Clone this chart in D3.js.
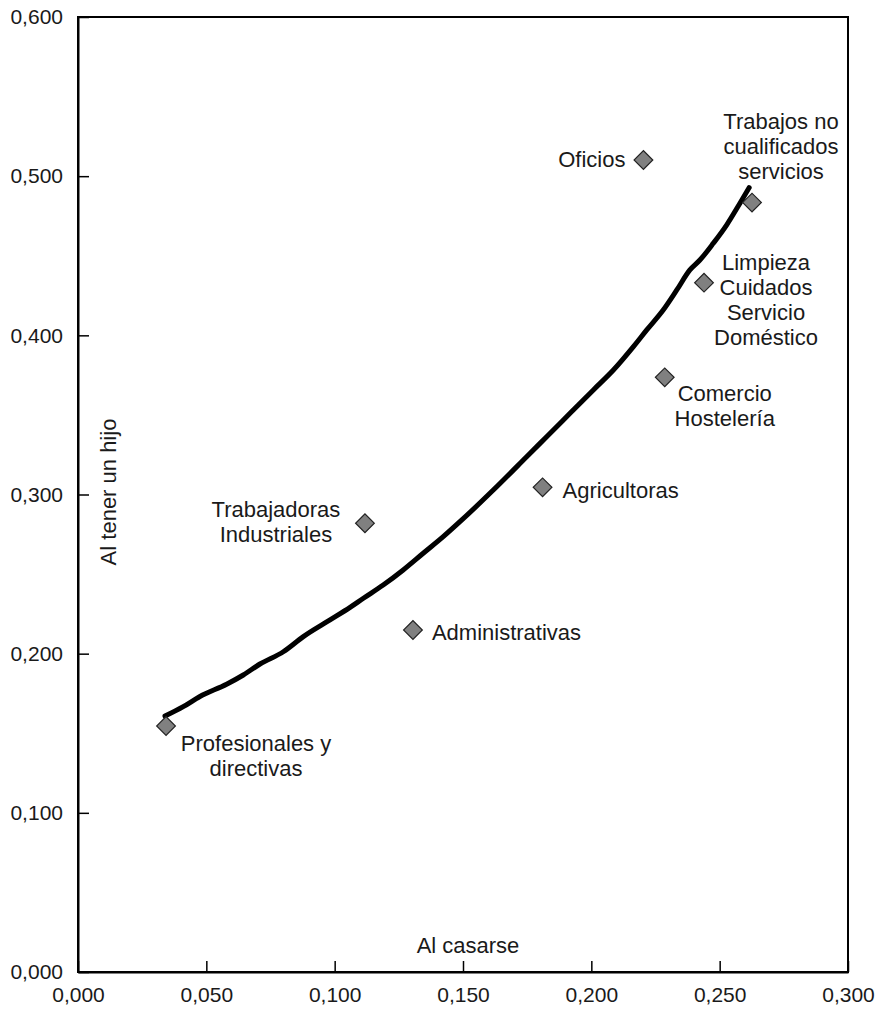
<!DOCTYPE html>
<html>
<head>
<meta charset="utf-8">
<script src="https://cdn.jsdelivr.net/npm/d3@7/dist/d3.min.js"></script>
<style>
  html, body { margin: 0; padding: 0; background: #fff; }
  svg text { font-family: "Liberation Sans", Arial, Helvetica, sans-serif; fill: #1a1a1a; }
</style>
</head>
<body>
<svg id="chart" width="886" height="1012"></svg>
<script>
// ---- Data ----
const categories = ["Profesionales y directivas", "Administrativas", "Trabajadoras Industriales",
  "Agricultoras", "Comercio Hostelería", "Limpieza Cuidados Servicio Doméstico",
  "Trabajos no cualificados servicios", "Oficios"];
const alCasarse = [0.0343, 0.1305, 0.1118, 0.1810, 0.2286, 0.2439, 0.2626, 0.2203];
const alTenerHijo = [0.1546, 0.2149, 0.2819, 0.3045, 0.3736, 0.4331, 0.4834, 0.5102];
const labelLines = [
  ["Profesionales y", "directivas"],
  ["Administrativas"],
  ["Trabajadoras", "Industriales"],
  ["Agricultoras"],
  ["Comercio", "Hostelería"],
  ["Limpieza", "Cuidados", "Servicio", "Doméstico"],
  ["Trabajos no", "cualificados", "servicios"],
  ["Oficios"]
];
// trend curve
const curveX = [0.0339, 0.0410, 0.0475, 0.0579, 0.0644, 0.0709, 0.0800, 0.0878, 0.0982, 0.1060,
  0.1112, 0.1189, 0.1267, 0.1345, 0.1423, 0.1488, 0.1618, 0.1748, 0.1826, 0.1917,
  0.2008, 0.2086, 0.2164, 0.2216, 0.2280, 0.2333, 0.2384, 0.2423, 0.2475, 0.2527,
  0.2579, 0.2615];
const curveY = [0.1608, 0.1667, 0.1731, 0.1808, 0.1866, 0.1935, 0.2012, 0.2107, 0.2212, 0.2291,
  0.2348, 0.2431, 0.2526, 0.2631, 0.2735, 0.2829, 0.3028, 0.3237, 0.3363, 0.3510,
  0.3657, 0.3782, 0.3929, 0.4034, 0.4159, 0.4285, 0.4411, 0.4473, 0.4578, 0.4693,
  0.4830, 0.4928];
const xTicks = [0, 0.05, 0.10, 0.15, 0.20, 0.25, 0.30];
const xTickLabels = ["0,000", "0,050", "0,100", "0,150", "0,200", "0,250", "0,300"];
const yTicks = [0, 0.1, 0.2, 0.3, 0.4, 0.5, 0.6];
const yTickLabels = ["0,000", "0,100", "0,200", "0,300", "0,400", "0,500", "0,600"];
const xTitle = "Al casarse";
const yTitle = "Al tener un hijo";

// ---- Layout (label placement relative to marker, px) ----
const labelLayout = [
  { dx: 90, dy: 17, anchor: "middle" },
  { dx: 19, dy: 2, anchor: "start" },
  { dx: -89, dy: -14, anchor: "middle" },
  { dx: 20, dy: 3, anchor: "start" },
  { dx: 60, dy: 16, anchor: "middle" },
  { dx: 62, dy: -20, anchor: "middle" },
  { dx: 29, dy: -81, anchor: "middle" },
  { dx: -18, dy: -1, anchor: "end" }
];

const svg = d3.select("#chart");
const L = 78, R = 848, T = 17, B = 972;
const x = d3.scaleLinear().domain([0, 0.3]).range([L, R]);
const y = d3.scaleLinear().domain([0, 0.6]).range([B, T]);
const fontSize = 21;
const labelSize = 22;

// frame
svg.append("rect").attr("x", L).attr("y", T).attr("width", R - L).attr("height", B - T)
  .attr("fill", "none").attr("stroke", "#000").attr("stroke-width", 2);

// axes
const xAxis = d3.axisBottom(x).tickValues(xTicks).tickFormat((d, i) => xTickLabels[i])
  .tickSizeInner(-11).tickSizeOuter(0).tickPadding(15);
const gx = svg.append("g").attr("transform", `translate(0,${B})`).call(xAxis);
const yAxis = d3.axisLeft(y).tickValues(yTicks).tickFormat((d, i) => yTickLabels[i])
  .tickSizeInner(-11).tickSizeOuter(0).tickPadding(15);
const gy = svg.append("g").attr("transform", `translate(${L},0)`).call(yAxis);
[gx, gy].forEach(g => {
  g.select(".domain").attr("stroke", "#000").attr("stroke-width", 2);
  g.selectAll(".tick line").attr("stroke", "#000").attr("stroke-width", 1.5);
  g.selectAll(".tick text").attr("font-size", fontSize)
    .attr("font-family", "'Liberation Sans', Arial, sans-serif").attr("fill", "#1a1a1a");
});

// axis titles
svg.append("text").attr("x", 468).attr("y", 945).attr("dy", "0.35em")
  .attr("text-anchor", "middle").attr("font-size", labelSize).text(xTitle);
svg.append("text").attr("transform", `translate(108,492) rotate(-90)`).attr("dy", "0.35em")
  .attr("text-anchor", "middle").attr("font-size", labelSize).text(yTitle);

// curve
const curveData = curveX.map((v, i) => [v, curveY[i]]);
svg.append("path").datum(curveData)
  .attr("d", d3.line().x(d => x(d[0])).y(d => y(d[1])).curve(d3.curveMonotoneX))
  .attr("fill", "none").attr("stroke", "#000").attr("stroke-width", 5)
  .attr("stroke-linecap", "round").attr("stroke-linejoin", "round");

// points
const pts = categories.map((c, i) => ({ c, x: alCasarse[i], y: alTenerHijo[i], lines: labelLines[i], lay: labelLayout[i] }));
svg.selectAll("path.pt").data(pts).enter().append("path").attr("class", "pt")
  .attr("d", d3.symbol().type(d3.symbolSquare).size(175)())
  .attr("transform", d => `translate(${x(d.x)},${y(d.y)}) rotate(45)`)
  .attr("fill", "#808080").attr("stroke", "#222").attr("stroke-width", 1.2);

// labels
const lineH = 25;
pts.forEach(d => {
  const t = svg.append("text")
    .attr("text-anchor", d.lay.anchor).attr("font-size", labelSize);
  d.lines.forEach((ln, k) => {
    t.append("tspan").attr("x", x(d.x) + d.lay.dx)
      .attr("y", y(d.y) + d.lay.dy + k * lineH).attr("dy", "0.35em").text(ln);
  });
});
</script>
</body>
</html>
